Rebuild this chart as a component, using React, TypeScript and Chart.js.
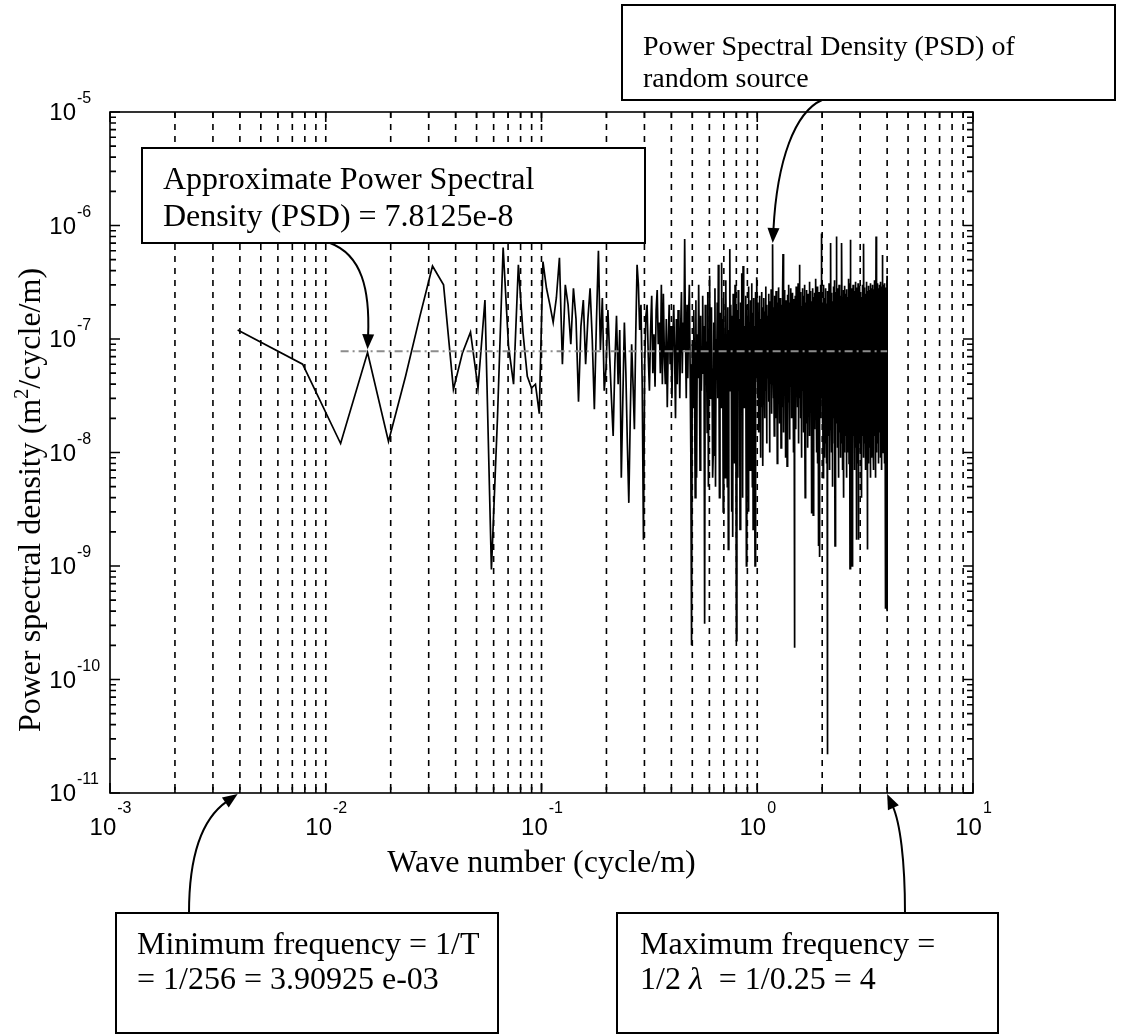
import React, { useEffect, useRef } from "react";
import { Chart, registerables } from "chart.js";

Chart.register(...registerables);

const W = 1121;
const H = 1035;

// Wave-number bins: k / 256 cycle/m, k = 1 .. 1024
const BIN_WIDTH = 1 / 256;
// PSD values below are in units of 1e-9 m^2/(cycle/m)
const NANO = 1e-9;

// k = 1 .. 25
const psdBins001to025 = [
  120, 60, 12, 76, 12.5, 47, 160, 440, 300, 36, 75, 115, 37, 220, 0.93, 20, 640, 87, 40, 450, 115, 47, 37, 40, 22,
];

// k = 26 .. 127
const psdBins026to127 = [
  480, 280, 200, 140, 230, 520, 60, 300, 200, 90,
  280, 150, 28, 130, 220, 60, 150, 280, 100, 24,
  140, 600, 80, 230, 35, 56, 180, 70, 30, 14,
  60, 160, 40, 120, 6, 30, 140, 50, 12, 3.6,
  20, 90, 40, 16, 110, 450, 300, 120, 200, 40,
  1.7, 60, 160, 200, 70, 35, 120, 240, 50, 110,
  38, 180, 270, 90, 140, 50, 300, 40, 250, 70,
  40, 150, 25, 90, 200, 60, 130, 30, 100, 200,
  70, 20, 150, 40, 180, 90, 30, 120, 260, 50,
  140, 80, 760, 100, 30, 200, 45, 150, 300, 60,
  10, 0.2,
];

// k = 128 .. 255
const psdBins128to255 = [
  90, 25, 180, 60, 4, 220, 6, 110, 45, 300, 70, 7, 160, 35, 85, 240,
  50, 130, 0.31, 200, 40, 95, 15, 260, 5, 120, 360, 30, 75, 190, 55, 6,
  9.5, 140, 65, 280, 5, 100, 45, 210, 30, 450, 80, 4, 170, 60, 25, 470,
  40, 150, 3, 230, 70, 110, 6, 330, 55, 90, 5, 190, 1.4, 120, 60, 620,
  35, 200, 75, 3, 160, 1.8, 250, 50, 130, 8, 300, 85, 40, 0.22, 180, 65,
  6, 270, 95, 45, 150, 2.1, 210, 70, 30, 380, 110, 4, 440, 60, 180, 25,
  130, 50, 240, 80, 1.0, 200, 35, 160, 90, 3, 290, 55, 140, 7, 220, 70,
  40, 310, 100, 5, 170, 2.1, 230, 60, 130, 8, 1.0, 260, 75, 190, 45, 350,
];

// k = 256 .. 511
const psdBins256to511 = [
  120, 30, 210, 55, 15, 170, 80, 240, 40, 9, 150, 65, 260, 25, 100, 190,
  7.6, 140, 50, 230, 85, 20, 175, 60, 290, 35, 120, 12, 200, 70, 45, 160,
  95, 250, 28, 130, 10, 215, 60, 180, 40, 275, 75, 22, 140, 55, 685, 90,
  30, 190, 65, 14, 240, 110, 45, 170, 20, 265, 80, 35, 150, 8, 210, 60,
  125, 40, 285, 70, 18, 180, 95, 230, 30, 140, 11, 200, 55, 160, 75, 25,
  250, 560, 45, 120, 15, 195, 85, 270, 35, 155, 60, 9, 220, 100, 40, 175,
  7.6, 135, 65, 245, 28, 190, 80, 300, 50, 115, 13, 210, 70, 160, 38, 280,
  95, 20, 170, 60, 255, 30, 140, 85, 10, 225, 50, 185, 120, 0.19, 165, 70,
  240, 35, 130, 16, 290, 75, 45, 200, 90, 25, 175, 60, 310, 40, 150, 12,
  220, 85, 55, 450, 30, 160, 100, 20, 260, 70, 140, 9, 195, 50, 280, 110,
  35, 170, 65, 240, 15, 130, 90, 300, 45, 185, 25, 4, 210, 80, 150, 55,
  270, 18, 120, 60, 230, 40, 165, 95, 11, 250, 75, 140, 30, 205, 85, 320,
  50, 14, 180, 110, 40, 265, 70, 155, 22, 215, 90, 2.9, 190, 60, 125, 35,
  280, 2.8, 145, 75, 235, 45, 170, 100, 16, 255, 55, 130, 30, 200, 85, 340,
  40, 160, 10, 225, 65, 290, 25, 145, 95, 8, 210, 50, 1.5, 175, 70, 260,
  35, 135, 1.2, 240, 80, 190, 20, 300, 60, 155, 45, 230, 850, 110, 30, 175,
];

// k = 512 .. 767
const psdBins512to767 = [
  60, 210, 18, 140, 85, 6, 250, 40, 120, 300, 25, 95, 170, 9, 65, 230,
  45, 155, 12, 280, 75, 130, 20, 205, 55, 8, 190, 100, 35, 265, 70, 0.022,
  150, 30, 240, 90, 14, 180, 60, 310, 7, 125, 45, 220, 80, 16, 160, 270,
  50, 115, 700, 25, 195, 65, 10, 255, 40, 140, 90, 5, 215, 75, 35, 175,
  290, 55, 110, 20, 235, 85, 12, 165, 45, 330, 70, 1.5, 200, 30, 130, 260,
  8, 185, 60, 95, 800, 40, 150, 18, 245, 75, 11, 210, 50, 120, 280, 35,
  160, 6, 225, 90, 40, 300, 65, 15, 190, 105, 30, 265, 55, 9, 145, 80,
  240, 25, 175, 60, 12, 320, 85, 45, 700, 130, 20, 205, 70, 7, 155, 95,
  35, 270, 50, 115, 16, 4, 230, 80, 190, 28, 140, 10, 295, 60, 165, 40,
  215, 90, 14, 250, 45, 125, 70, 6, 185, 100, 30, 275, 55, 150, 19, 235,
  65, 10, 200, 85, 340, 40, 135, 22, 260, 75, 8, 180, 110, 45, 310, 55,
  160, 0.95, 220, 90, 12, 750, 30, 145, 70, 5, 205, 120, 38, 280, 60, 18,
  1.0, 175, 80, 245, 25, 130, 95, 9, 300, 50, 165, 14, 215, 70, 40, 265,
  105, 20, 190, 60, 7, 230, 85, 150, 30, 320, 45, 120, 11, 255, 75, 180,
  35, 140, 16, 285, 60, 1.7, 200, 95, 25, 170, 55, 240, 8, 130, 80, 310,
  45, 190, 1.7, 225, 70, 110, 20, 270, 50, 155, 12, 205, 90, 35, 295, 65,
];

// k = 768 .. 1024
const psdBins768to1024 = [
  140, 10, 215, 80, 40, 260, 100, 18, 180, 60, 125, 6, 4, 235, 75, 165,
  28, 300, 55, 115, 14, 245, 85, 190, 35, 150, 9, 275, 65, 130, 22, 690,
  70, 160, 40, 220, 95, 12, 285, 50, 175, 25, 110, 7, 250, 80, 140, 35,
  205, 60, 16, 320, 90, 45, 170, 10, 235, 75, 125, 30, 265, 55, 1.4, 185,
  100, 20, 240, 65, 150, 8, 210, 85, 40, 295, 60, 130, 15, 225, 95, 175,
  35, 270, 50, 11, 195, 120, 70, 310, 25, 160, 80, 6, 245, 45, 140, 90,
  18, 280, 65, 185, 30, 130, 9, 255, 75, 200, 40, 115, 22, 300, 55, 165,
  85, 12, 230, 60, 145, 35, 275, 95, 7, 190, 50, 125, 260, 20, 170, 70,
  330, 40, 110, 14, 215, 80, 155, 28, 290, 60, 6, 240, 100, 45, 800, 130,
  25, 185, 70, 10, 265, 50, 140, 90, 33, 310, 65, 175, 12, 220, 85, 150,
  40, 280, 60, 8, 200, 115, 30, 255, 75, 160, 18, 235, 95, 50, 300, 130,
  15, 190, 70, 245, 35, 145, 9, 275, 55, 210, 100, 25, 320, 65, 165, 45,
  230, 85, 12, 290, 60, 180, 30, 250, 110, 7, 205, 75, 140, 40, 550, 95,
  20, 215, 65, 160, 10, 270, 50, 125, 35, 300, 80, 185, 14, 240, 100, 45,
  175, 28, 260, 70, 140, 8, 310, 55, 200, 90, 0.42, 230, 40, 150, 18, 285,
  60, 125, 33, 245, 80, 170, 11, 275, 50, 195, 100, 25, 260, 70, 150, 360,
  0.4,
];

// approximate (mean) PSD reference level
const approxPsdLevel = 7.8125e-8;
const approxLineFreqs = [3 / 256, 4];

// axes
const xRange = [1e-3, 10];
const yRange = [1e-11, 1e-5];
const xTickExponents = [-3, -2, -1, 0, 1];
const yTickExponents = [-11, -10, -9, -8, -7, -6, -5];

const xTitle = "Wave number (cycle/m)";
const yTitleParts = ["Power spectral density (m", "2", "/cycle/m)"];

const boxApprox = ["Approximate Power Spectral", "Density (PSD) = 7.8125e-8"];
const boxRandom = ["Power Spectral Density (PSD) of", "random source"];
const boxMin = ["Minimum frequency = 1/T", "= 1/256 = 3.90925 e-03"];
const boxMaxLine1 = "Maximum frequency =";
const boxMaxLine2 = ["1/2 ", "\u03BB", "  = 1/0.25 = 4"];

const SERIF = "'Liberation Serif', 'Times New Roman', serif";
const SANS = "'Liberation Sans', Arial, Helvetica, sans-serif";

function arrow(ctx: CanvasRenderingContext2D, p: number[][]) {
  const [p0, p1, p2, p3] = p;
  const dx = p3[0] - p2[0];
  const dy = p3[1] - p2[1];
  const L = Math.hypot(dx, dy) || 1;
  const ux = dx / L;
  const uy = dy / L;
  const hl = 15;
  const hw = 6;
  const bx = p3[0] - ux * hl;
  const by = p3[1] - uy * hl;
  ctx.beginPath();
  ctx.moveTo(p0[0], p0[1]);
  ctx.bezierCurveTo(p1[0], p1[1], p2[0], p2[1], bx + ux * 2, by + uy * 2);
  ctx.stroke();
  ctx.beginPath();
  ctx.moveTo(p3[0], p3[1]);
  ctx.lineTo(bx - uy * hw, by + ux * hw);
  ctx.lineTo(bx + uy * hw, by - ux * hw);
  ctx.closePath();
  ctx.fill();
}

function box(ctx: CanvasRenderingContext2D, x0: number, y0: number, x1: number, y1: number) {
  ctx.fillStyle = "#fff";
  ctx.fillRect(x0, y0, x1 - x0, y1 - y0);
  ctx.strokeStyle = "#000";
  ctx.lineWidth = 2;
  ctx.strokeRect(x0, y0, x1 - x0, y1 - y0);
  ctx.fillStyle = "#000";
}

const decorPlugin = {
  id: "decor",
  beforeDatasetsDraw(chart: any) {
    const { ctx, chartArea: a, scales } = chart;
    const xs = scales.x;
    ctx.save();
    ctx.strokeStyle = "#000";
    ctx.lineWidth = 1.6;
    ctx.setLineDash([6, 6]);
    for (let e = -3; e <= 0; e++) {
      for (let m = 1; m <= 9; m++) {
        if (e === -3 && m === 1) continue;
        const px = xs.getPixelForValue(m * Math.pow(10, e));
        ctx.beginPath();
        ctx.moveTo(px, a.top);
        ctx.lineTo(px, a.bottom);
        ctx.stroke();
      }
    }
    ctx.restore();
  },
  afterDatasetsDraw(chart: any) {
    const { ctx, chartArea: a, scales } = chart;
    const xs = scales.x;
    const ys = scales.y;
    ctx.save();
    ctx.strokeStyle = "#000";
    ctx.fillStyle = "#000";
    ctx.lineWidth = 1.6;
    ctx.setLineDash([]);
    // frame
    ctx.strokeRect(a.left, a.top, a.right - a.left, a.bottom - a.top);
    // y ticks
    for (let e = -11; e <= -5; e++) {
      for (let m = 1; m <= 9; m++) {
        if (e === -5 && m > 1) break;
        const py = ys.getPixelForValue(m * Math.pow(10, e));
        const len = m === 1 ? 10 : 6;
        ctx.beginPath();
        ctx.moveTo(a.left, py);
        ctx.lineTo(a.left + len, py);
        ctx.moveTo(a.right, py);
        ctx.lineTo(a.right - len, py);
        ctx.stroke();
      }
    }
    // x ticks
    for (let e = -3; e <= 1; e++) {
      for (let m = 1; m <= 9; m++) {
        if (e === 1 && m > 1) break;
        const px = xs.getPixelForValue(m * Math.pow(10, e));
        const len = m === 1 ? 10 : 6;
        ctx.beginPath();
        ctx.moveTo(px, a.bottom);
        ctx.lineTo(px, a.bottom - len);
        ctx.moveTo(px, a.top);
        ctx.lineTo(px, a.top + len);
        ctx.stroke();
      }
    }
    // tick labels
    ctx.textBaseline = "alphabetic";
    for (const e of yTickExponents) {
      const py = ys.getPixelForValue(Math.pow(10, e));
      ctx.font = `24px ${SANS}`;
      ctx.textAlign = "right";
      ctx.fillText("10", 76, py + 8);
      ctx.font = `16px ${SANS}`;
      ctx.textAlign = "left";
      ctx.fillText(String(e), 77, py - 9);
    }
    for (const e of xTickExponents) {
      const px = xs.getPixelForValue(Math.pow(10, e));
      ctx.font = `24px ${SANS}`;
      const w1 = ctx.measureText("10").width;
      ctx.font = `16px ${SANS}`;
      const w2 = ctx.measureText(String(e)).width;
      const start = px - (w1 + w2) / 2;
      ctx.textAlign = "left";
      ctx.font = `24px ${SANS}`;
      ctx.fillText("10", start, 835);
      ctx.font = `16px ${SANS}`;
      ctx.fillText(String(e), start + w1 + 1, 813);
    }
    // axis titles
    ctx.font = `32px ${SERIF}`;
    ctx.textAlign = "center";
    ctx.fillText(xTitle, (a.left + a.right) / 2, 872);

    ctx.save();
    ctx.translate(40, 500);
    ctx.rotate(-Math.PI / 2);
    ctx.textAlign = "left";
    ctx.font = `32px ${SERIF}`;
    const t0 = ctx.measureText(yTitleParts[0]).width;
    const t2 = ctx.measureText(yTitleParts[2]).width;
    ctx.font = `20px ${SERIF}`;
    const t1 = ctx.measureText(yTitleParts[1]).width;
    let sx = -(t0 + t1 + t2) / 2;
    ctx.font = `32px ${SERIF}`;
    ctx.fillText(yTitleParts[0], sx, 0);
    sx += t0;
    ctx.font = `20px ${SERIF}`;
    ctx.fillText(yTitleParts[1], sx, -12);
    sx += t1;
    ctx.font = `32px ${SERIF}`;
    ctx.fillText(yTitleParts[2], sx, 0);
    ctx.restore();

    // annotation boxes
    ctx.textAlign = "left";
    box(ctx, 142, 148, 645, 243);
    ctx.font = `32px ${SERIF}`;
    ctx.fillText(boxApprox[0], 163, 189);
    ctx.fillText(boxApprox[1], 163, 226);

    box(ctx, 622, 5, 1115, 100);
    ctx.font = `28px ${SERIF}`;
    ctx.fillText(boxRandom[0], 643, 55);
    ctx.fillText(boxRandom[1], 643, 87);

    box(ctx, 116, 913, 498, 1033);
    ctx.font = `32px ${SERIF}`;
    ctx.fillText(boxMin[0], 137, 954);
    ctx.fillText(boxMin[1], 137, 989);

    box(ctx, 617, 913, 998, 1033);
    ctx.font = `32px ${SERIF}`;
    ctx.fillText(boxMaxLine1, 640, 954);
    let mx = 640;
    ctx.fillText(boxMaxLine2[0], mx, 989);
    mx += ctx.measureText(boxMaxLine2[0]).width;
    ctx.font = `italic 32px ${SERIF}`;
    ctx.fillText(boxMaxLine2[1], mx, 989);
    mx += ctx.measureText(boxMaxLine2[1]).width;
    ctx.font = `32px ${SERIF}`;
    ctx.fillText(boxMaxLine2[2], mx, 989);

    // arrows
    ctx.lineWidth = 2;
    ctx.strokeStyle = "#000";
    ctx.fillStyle = "#000";
    const tipApprox = [xs.getPixelForValue(4 / 256), ys.getPixelForValue(approxPsdLevel) - 2];
    arrow(ctx, [[330, 243], [362, 255], [370, 290], tipApprox]);
    const tipRandom = [xs.getPixelForValue(302 / 256), 243];
    arrow(ctx, [[822, 100], [795, 112], [777, 160], tipRandom]);
    const tipMin = [xs.getPixelForValue(1 / 256), a.bottom + 1];
    arrow(ctx, [[189, 913], [189, 860], [200, 820], tipMin]);
    const tipMax = [xs.getPixelForValue(4), a.bottom + 1];
    arrow(ctx, [[905, 913], [905, 860], [900, 822], tipMax]);
    ctx.restore();
  },
};

export default function App() {
  const ref = useRef<HTMLCanvasElement | null>(null);
  useEffect(() => {
    document.body.style.margin = "0";
    const canvas = ref.current;
    if (!canvas) return;
    const values = [
      ...psdBins001to025,
      ...psdBins026to127,
      ...psdBins128to255,
      ...psdBins256to511,
      ...psdBins512to767,
      ...psdBins768to1024,
    ];
    const psdData = values.map((v, i) => ({ x: (i + 1) * BIN_WIDTH, y: v * NANO }));
    const approxData = approxLineFreqs.map((f) => ({ x: f, y: approxPsdLevel }));
    const chart = new Chart(canvas, {
      type: "scatter",
      data: {
        datasets: [
          {
            data: approxData,
            showLine: true,
            borderColor: "#8c8c8c",
            borderWidth: 2,
            borderDash: [8, 4, 2, 4],
            pointRadius: 0,
            order: 0,
          },
          {
            data: psdData,
            showLine: true,
            borderColor: "#000",
            borderWidth: 1.7,
            pointRadius: 0,
            order: 1,
          },
        ],
      },
      options: {
        animation: false,
        responsive: false,
        events: [],
        layout: { padding: { left: 110, top: 112, right: W - 973, bottom: H - 793 } },
        plugins: { legend: { display: false }, tooltip: { enabled: false } },
        scales: {
          x: { type: "logarithmic", min: xRange[0], max: xRange[1], display: false },
          y: { type: "logarithmic", min: yRange[0], max: yRange[1], display: false },
        },
      },
      plugins: [decorPlugin],
    } as any);
    return () => chart.destroy();
  }, []);
  return <canvas ref={ref} width={W} height={H} style={{ display: "block" }} />;
}
